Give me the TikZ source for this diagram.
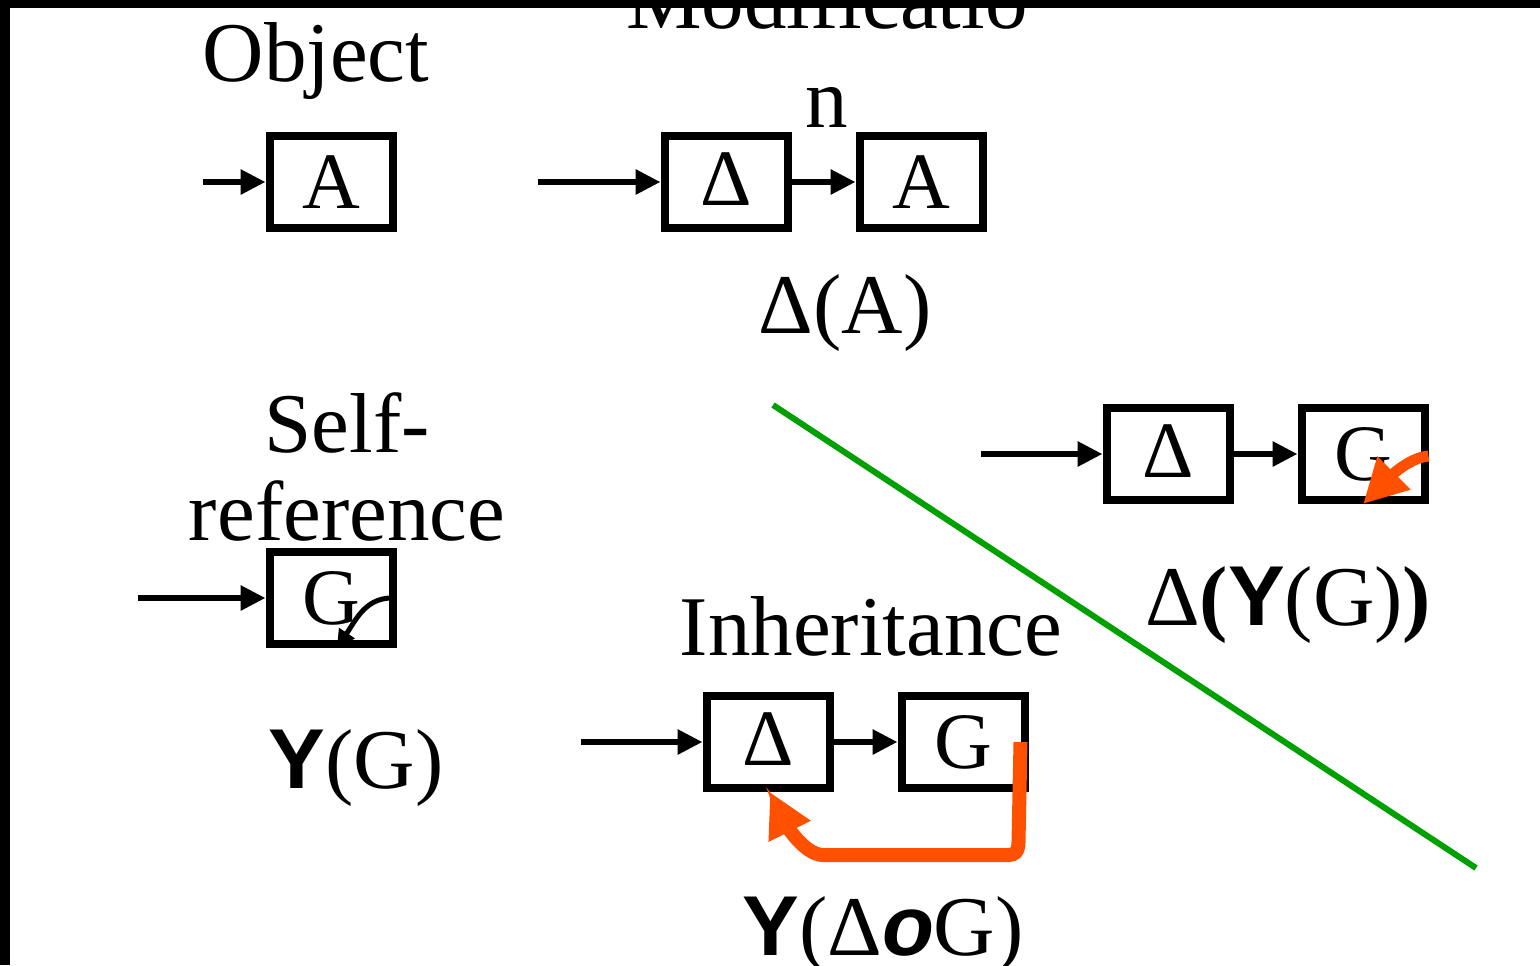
\documentclass[tikz,border=0pt]{standalone}
\usepackage{fontspec}
\setmainfont{Liberation Serif}
\newfontfamily\ysans{Liberation Sans}
\usetikzlibrary{arrows.meta, positioning}
\definecolor{loopred}{RGB}{255,80,0}
\definecolor{cutgreen}{RGB}{0,160,0}
\newcommand{\Ycomb}{{\ysans\bfseries Y}}
\newcommand{\ocomp}{{\ysans\bfseries\itshape o}}

\begin{document}
\begin{tikzpicture}[
    x=0.5pt, y=-0.5pt,
    node distance=32pt,
    box/.style={
        draw, line width=4pt, inner sep=0pt,
        minimum width=61.5pt, minimum height=46pt,
        font=\fontsize{40}{44}\selectfont
    },
    lbl/.style={inner sep=0pt, anchor=base, align=center,
        font=\fontsize{42.5}{47}\selectfont},
    arrow/.style={-{Triangle[length=12.5pt,width=12pt]}, line width=3pt},
    loop/.style={-{Triangle[length=22pt,width=22pt]}, line width=7pt, loopred},
    selfloop/.style={-{Triangle[length=9pt,width=9pt]}, line width=2.5pt}
]
\useasboundingbox (0,0) rectangle (1540,965);
% -- slide frame --
\fill (0,0) rectangle (1540,8);
\fill (0,0) rectangle (10,965);

% -- Object --
\node[lbl] (object) at (316,81) {Object};
\node[box] (a1) at (331,182) {A};
\coordinate (ina1) at (203,182);
\draw[arrow] (ina1) -- (a1);

% -- Modification --
\node[lbl] (modif) at (827,127) {Modificatio\\[2.5pt]n};
\node[box] (d1) at (726,182) {\raisebox{3pt}{Δ}};
\node[box, right=of d1] (a2) {A};
\coordinate (ind1) at (538,182);
\draw[arrow] (ind1) -- (d1);
\draw[arrow] (d1) -- (a2);
\node[lbl] (modterm) at (845,333) {Δ(A)};

% -- Self-reference --
\node[lbl] (selfref) at (347,540) {Self-\\[-3pt]reference};
\node[box] (g1) at (331,598) {G};
\coordinate (ing1) at (138,598);
\draw[arrow] (ing1) -- (g1);
\draw[selfloop] (g1.east) .. controls +(-30,-2) and +(20,-30) .. ([xshift=3pt]g1.south);
\node[lbl] (yg) at (356,788) {\Ycomb(G)};

% -- Modification of self-reference --
\node[box] (d2) at (1168,454) {\raisebox{3pt}{Δ}};
\node[box, right=of d2] (g2) {G};
\coordinate (ind2) at (981,454);
\draw[arrow] (ind2) -- (d2);
\draw[arrow] (d2) -- (g2);
\draw[loop, line width=5.5pt] ([yshift=-1pt]g2.east) .. controls +(-22,2) and +(22,-22) .. (g2.south);
\node[lbl] (dyg) at (1288,625) {Δ\textbf{(}\Ycomb(G)\textbf{)}};

% -- Inheritance --
\node[lbl] (inherit) at (871,655) {Inheritance};
\node[box] (d3) at (768,742) {\raisebox{3pt}{Δ}};
\node[box, right=of d3] (g3) {G};
\coordinate (ind3) at (581,742);
\draw[arrow] (ind3) -- (d3);
\draw[arrow] (d3) -- (g3);
\draw[loop] ([xshift=-4pt]g3.east) -- ++(-2,100)
    .. controls +(0,10) and +(6,0) .. ++(-10,13) -- ++(-185,0)
    .. controls +(-20,0) and +(15,30) .. ([xshift=1pt]d3.south);
\node[lbl] (ydg) at (883,955) {\Ycomb(Δ\ocomp G)};

% -- divider --
\coordinate (cutstart) at (773,405);
\coordinate (cutend) at (1476,868);
\draw[cutgreen, line width=3pt] (cutstart) -- (cutend);
\end{tikzpicture}
\end{document}
